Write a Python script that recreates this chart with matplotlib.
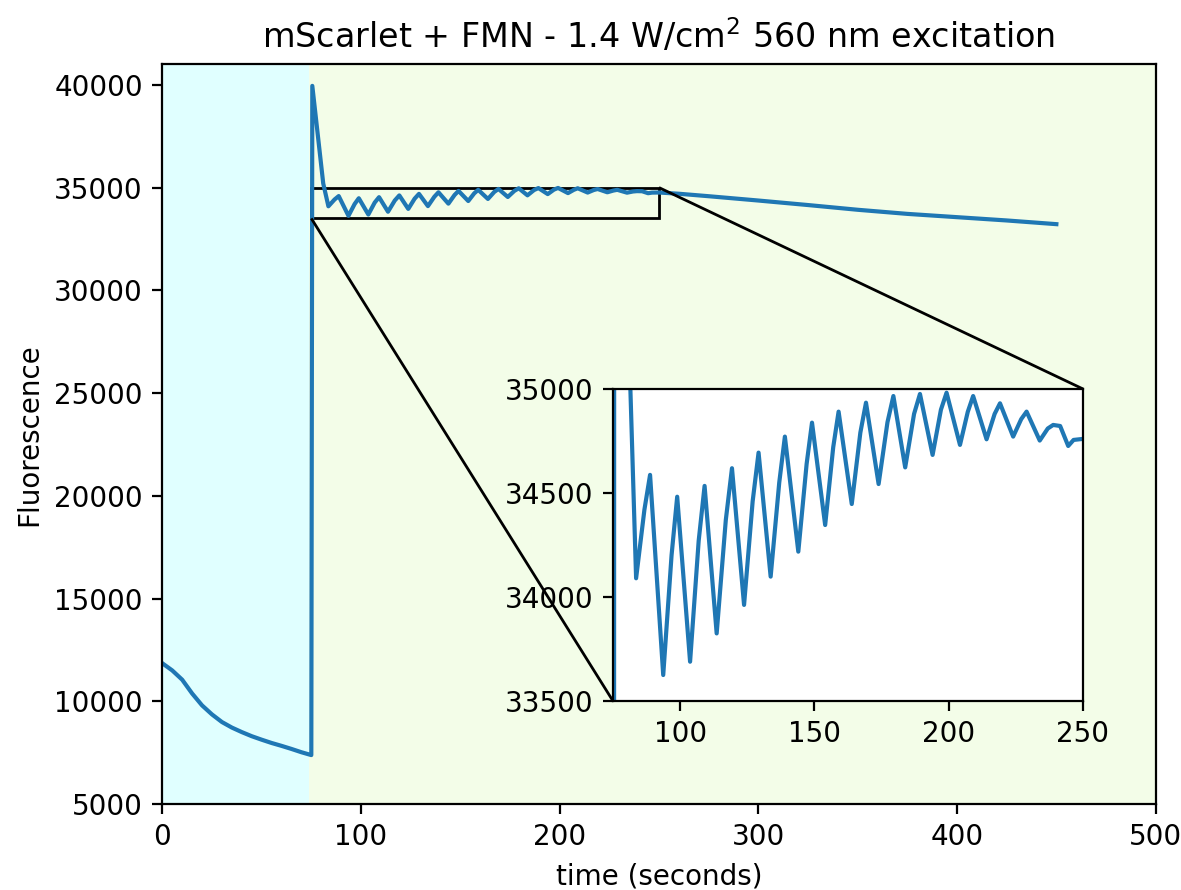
import matplotlib
matplotlib.use('Agg')
import matplotlib.pyplot as plt
from mpl_toolkits.axes_grid1.inset_locator import mark_inset

# dark period (before the 560 nm light is switched on)
t_dark = [0, 5, 10, 15, 20, 25, 30, 35, 40, 45, 50, 55, 60, 65, 70, 75.0]
f_dark = [11850, 11500, 11050, 10380, 9800, 9360, 8990, 8720, 8500, 8300,
          8130, 7970, 7830, 7680, 7520, 7380]

# light on: spike, then the oscillations (trough, mid-rise, peak per cycle)
t_light = [75.5, 81.0, 83.6, 86.7, 88.8,
           93.7, 96.8, 98.9, 103.7, 106.9, 109.1, 113.6, 117.0, 119.3,
           123.8, 127.0, 129.2, 133.7, 136.9, 139.0, 144.0, 147.1, 149.1,
           154.0, 157.0, 159.0, 163.9, 167.1, 169.2, 173.9, 177.2, 179.4,
           183.8, 187.1, 189.3, 194.0, 197.1, 199.2, 204.2, 207.1, 209.1,
           214.1, 217.1, 219.1, 224.0, 227.0, 229.0, 233.9, 236.9, 238.9,
           241.5, 244.5, 246.5, 250.0]
f_light = [39950, 35200, 34090, 34420, 34587,
           33625, 34200, 34482, 33689, 34270, 34534, 33825, 34370, 34619,
           33962, 34460, 34694, 34098, 34550, 34771, 34218, 34640, 34838,
           34346, 34720, 34891, 34447, 34790, 34934, 34543, 34840, 34966,
           34623, 34880, 34976, 34683, 34900, 34982, 34731, 34890, 34966,
           34758, 34880, 34931, 34771, 34855, 34891, 34752, 34810, 34827,
           34822, 34726, 34755, 34760]

# slow decay afterwards
t_tail = [260, 275, 300, 325, 350, 375, 400, 425, 450]
f_tail = [34700, 34580, 34370, 34150, 33920, 33720, 33560, 33400, 33220]

t_all = t_dark + t_light + t_tail
f_all = f_dark + f_light + f_tail

fig = plt.figure(figsize=(1181 / 200, 890 / 200), dpi=200)
ax = fig.add_axes([162.3 / 1181, 1 - 804 / 890, 993.4 / 1181, 739.7 / 890])

ax.axvspan(0, 74, color='#e0ffff', lw=0)
ax.axvspan(74, 500, color='#f3fde8', lw=0)
ax.plot(t_all, f_all, color='C0')
ax.set_xlim(0, 500)
ax.set_ylim(5000, 41000)
ax.set_xlabel('time (seconds)')
ax.set_ylabel('Fluorescence')
ax.set_title('mScarlet + FMN - 1.4 W/cm$^2$ 560 nm excitation')

axins = ax.inset_axes([0.4537, 0.1392, 0.4731, 0.4219])
axins.set_facecolor('white')
axins.plot(t_all, f_all, color='C0')
axins.set_xlim(75, 250)
axins.set_ylim(33500, 35000)
axins.set_xticks([100, 150, 200, 250])
axins.set_yticks([33500, 34000, 34500, 35000])
mark_inset(ax, axins, loc1=1, loc2=3, fc='none', ec='0')

fig.savefig('out.png', dpi=200)
